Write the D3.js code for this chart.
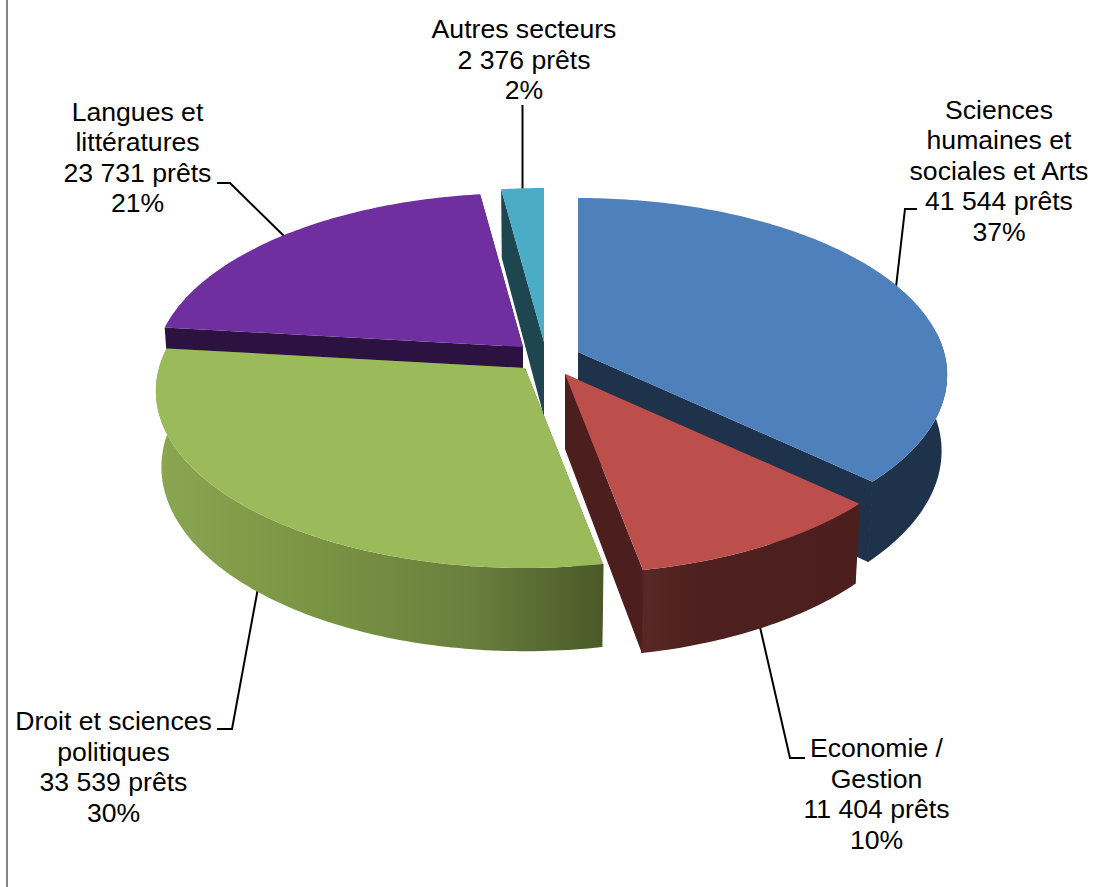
<!DOCTYPE html>
<html><head><meta charset="utf-8">
<script src="https://cdn.jsdelivr.net/npm/d3@7/dist/d3.min.js"></script>
<style>html,body{margin:0;padding:0;background:#fff;overflow:hidden}svg{display:block}text{font-family:"Liberation Sans",Arial,sans-serif;font-size:26.6px;fill:#000}</style>
</head><body><svg id="c" width="1106" height="887"></svg>
<script>
// Data (clockwise from 12 o'clock)
const categories = ["Sciences humaines et sociales et Arts","Economie / Gestion","Droit et sciences politiques","Langues et littératures","Autres secteurs"];
const categoryLines = [["Sciences","humaines et","sociales et Arts"],["Economie /","Gestion"],["Droit et sciences","politiques"],["Langues et","littératures"],["Autres secteurs"]];
const values = [41544,11404,33539,23731,2376];
const unit = "prêts";

// Styles
const topColors = ["#4E80BC","#BC4F4C","#9BBA59","#6F2F9E","#4BACC6"];
const cutColors = ["#1E324C","#4C1F1E","#4C5A28","#2C1240","#1E4650"];
const rimStops = [
  [[0,"#1E324C"],[1,"#1E324C"]],
  [[0,"#5A2725"],[0.25,"#4E201F"],[1,"#4C1F1E"]],
  [[0,"#8BA651"],[0.35,"#7A9444"],[0.7,"#6A803E"],[1,"#4A5928"]],
  [[0,"#2C1240"],[1,"#2C1240"]],
  [[0,"#1E4650"],[1,"#1E4650"]]
];
// Layout: exploded slice apex on the screen
const apexes = [[578,352],[565,374],[525,368],[523,347],[544,342]];
const labelLayout = [
  {x:999,y:118.5},{x:876.5,y:757},{x:113.5,y:730},{x:137.5,y:120.5},{x:524,y:38}
];
const leaders = [
  [[917,209],[905,209],[896,287]],
  [[805,758],[790,758],[760,627]],
  [[217,729],[232,729],[258,588]],
  [[217,183],[230,183],[285,237]],
  [[522.5,105],[522.5,192]]
];
const drawOrder = [4,0,3,2,1];
const lineStep = 30.5;
// Projection
const R = 366, kR = 174, persp = 0.13, depth = 75, bottomScale = 0.985;

const svg = d3.select("#c");
const defs = svg.append("defs");
svg.append("line").attr("x1",7).attr("x2",7).attr("y1",0).attr("y2",887).attr("stroke","#868686").attr("stroke-width",2);

const fr = d3.formatLocale({decimal:",",thousands:"\u00a0",grouping:[3],currency:["",""]});
const fmtN = fr.format(",d");
const total = d3.sum(values);
const arcs = d3.pie().sort(null).startAngle(0).endAngle(2*Math.PI)(values);

function project(apex, theta, r, bottom){
  const u = r*Math.sin(theta), v = -r*Math.cos(theta);
  const s = 1/(1 - persp*v/R);
  const x = u*s, y = (kR/R)*v*s;
  if(!bottom) return [apex[0]+x, apex[1]+y];
  return [apex[0]+x*bottomScale, apex[1]+y*bottomScale+depth*s];
}
const line = d3.line();

// Leader lines, behind the pie
svg.append("g").selectAll("path").data(leaders).join("path")
  .attr("d",d=>line(d)).attr("fill","none").attr("stroke","#000").attr("stroke-width",2);

const gPie = svg.append("g");
drawOrder.forEach(i=>{
  const a = arcs[i], apex = apexes[i];
  const n = Math.max(8,Math.ceil((a.endAngle-a.startAngle)*60));
  const thetas = d3.range(n+1).map(j=>a.startAngle+(a.endAngle-a.startAngle)*j/n);
  const topArc = thetas.map(t=>project(apex,t,R,false));
  // only the part of the rim that faces the viewer
  const front = thetas.filter(t=>Math.cos(t)<0.12);
  const rimTop = front.map(t=>project(apex,t,R,false));
  const rimBot = front.map(t=>project(apex,t,R,true));
  const apexB = project(apex,0,0,true);
  const g = gPie.append("g");
  // cut faces
  [a.startAngle,a.endAngle].forEach(t=>{
    g.append("path").attr("d",line([apex,project(apex,t,R,false),project(apex,t,R,true),apexB])+"Z")
     .attr("fill",cutColors[i]);
  });
  // outer rim
  if(front.length>1){
    const xs = rimTop.concat(rimBot).map(p=>p[0]);
    const gid = "rim"+i;
    const gr = defs.append("linearGradient").attr("id",gid).attr("gradientUnits","userSpaceOnUse")
      .attr("x1",d3.min(xs)).attr("x2",d3.max(xs)).attr("y1",0).attr("y2",0);
    rimStops[i].forEach(s=>gr.append("stop").attr("offset",s[0]).attr("stop-color",s[1]));
    g.append("path").attr("d",line(rimTop.concat(rimBot.slice().reverse()))+"Z").attr("fill",`url(#${gid})`);
    // close the hairline where rim meets a cut face
    [a.startAngle,a.endAngle].filter(t=>Math.cos(t)<0.12).forEach(t=>{
      const c = d3.color(cutColors[i]);
      g.append("path").attr("d",line([project(apex,t,R,false),project(apex,t,R,true)]))
       .attr("stroke",c).attr("stroke-width",1.2).attr("fill","none");
    });
  }
  // top face
  g.append("path").attr("d",line([apex].concat(topArc))+"Z").attr("fill",topColors[i]);
});

// Labels
const gLab = svg.append("g").attr("text-anchor","middle");
values.forEach((v,i)=>{
  const rows = categoryLines[i].concat([fmtN(v)+" "+unit, d3.format(".0%")(v/total)]);
  const t = gLab.append("text");
  rows.forEach((r,j)=>t.append("tspan").attr("x",labelLayout[i].x).attr("y",labelLayout[i].y+j*lineStep).text(r));
});
</script></body></html>
